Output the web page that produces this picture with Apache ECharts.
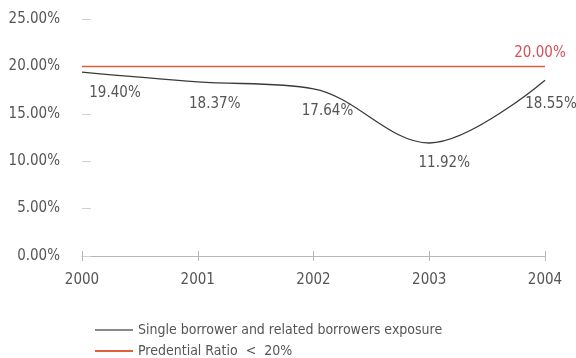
<!DOCTYPE html>
<html>
<head>
<meta charset="utf-8">
<script src="https://cdn.jsdelivr.net/npm/echarts@6/dist/echarts.min.js"></script>
<style>
  html, body { margin: 0; padding: 0; background: #ffffff; }
  #chart { width: 576px; height: 358px; }
</style>
</head>
<body>
<div id="chart"></div>
<script>
// Exposure ratios by year, in percent
const years = ['2000', '2001', '2002', '2003', '2004'];
const exposure = [19.40, 18.37, 17.64, 11.92, 18.55];
const prudentialLimit = [20, 20, 20, 20, 20];
const yTicks = [0, 5, 10, 15, 20, 25];

const exposureName = 'Single borrower and related borrowers exposure';
const limitName = 'Predential Ratio  <  20%';

const FONT = '"DejaVu Sans Condensed", "Liberation Sans Narrow", Arial, sans-serif';
const TEXT = '#555555';
const DARK = '#3a3a3a';
const GREY_KEY = '#8a8a8a';
const RED = '#e0603a';

// label offsets so each value sits just below-right of its point
const labelOffsets = [[33, 6], [17, 7], [14, 7], [15, 5], [6, 8]];

const legendBase = {
  orient: 'vertical',
  left: 90,
  itemWidth: 38,
  itemHeight: 2,
  itemGap: 4,
  icon: 'rect',
  textStyle: { fontFamily: FONT, fontSize: 14, color: TEXT }
};

const chart = echarts.init(document.getElementById('chart'));
chart.setOption({
  backgroundColor: '#ffffff',
  animation: false,
  grid: { left: 82, right: 31, top: 19, bottom: 102 },
  legend: [
    Object.assign({}, legendBase, {
      top: 318,
      data: [{ name: exposureName, itemStyle: { color: GREY_KEY } }]
    }),
    Object.assign({}, legendBase, {
      top: 339,
      data: [{ name: limitName, itemStyle: { color: RED } }]
    })
  ],
  xAxis: [{
    type: 'category',
    data: years,
    boundaryGap: false,
    axisLine: { lineStyle: { color: '#b8b8b8', width: 1 } },
    axisTick: { show: true, length: 5, lineStyle: { color: '#b8b8b8' } },
    axisLabel: { fontFamily: FONT, fontSize: 15, color: TEXT, margin: 17 }
  }, {
    type: 'category',
    data: years,
    boundaryGap: false,
    position: 'bottom',
    axisLine: { show: false },
    axisTick: { show: true, inside: true, length: 5, lineStyle: { color: '#b8b8b8' } },
    axisLabel: { show: false }
  }],
  yAxis: {
    type: 'value',
    min: yTicks[0],
    max: yTicks[yTicks.length - 1],
    interval: 5,
    splitLine: { show: false },
    axisLine: { show: false },
    axisTick: { show: true, inside: true, length: 9, lineStyle: { color: '#d0d0d0' } },
    axisLabel: {
      fontFamily: FONT, fontSize: 15, color: TEXT, margin: 22,
      formatter: v => v.toFixed(2) + '%'
    }
  },
  series: [{
    name: exposureName,
    type: 'line',
    data: exposure.map((v, i) => ({
      value: v,
      label: { show: true, offset: labelOffsets[i] }
    })),
    smooth: 0.35,
    symbol: 'circle',
    symbolSize: 0,
    showSymbol: true,
    lineStyle: { color: DARK, width: 1.3 },
    itemStyle: { color: DARK },
    label: {
      show: true,
      position: 'bottom',
      distance: 8,
      fontFamily: FONT,
      fontSize: 15,
      color: TEXT,
      formatter: p => p.value.toFixed(2) + '%'
    },
    z: 3
  }, {
    name: limitName,
    type: 'line',
    data: prudentialLimit.map((v, i) => ({
      value: v,
      label: { show: i === prudentialLimit.length - 1 }
    })),
    symbol: 'circle',
    symbolSize: 0,
    showSymbol: true,
    lineStyle: { color: RED, width: 1.5 },
    itemStyle: { color: RED },
    label: {
      position: 'top',
      distance: 5,
      offset: [-5, -1],
      fontFamily: FONT,
      fontSize: 15,
      color: '#d2505a',
      formatter: p => p.value.toFixed(2) + '%'
    },
    z: 2
  }]
});
</script>
</body>
</html>
